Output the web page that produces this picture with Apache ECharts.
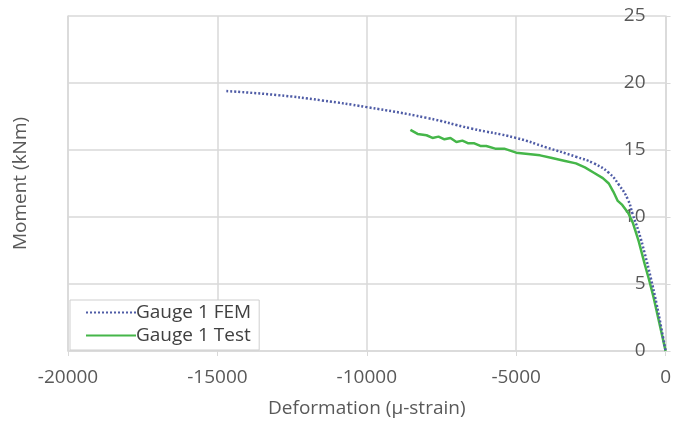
<!DOCTYPE html>
<html>
<head>
<meta charset="utf-8">
<script src="https://cdn.jsdelivr.net/npm/echarts@6/dist/echarts.min.js"></script>
<style>
  html, body { margin: 0; padding: 0; background: #fff; }
  #main { width: 674px; height: 423px; }
</style>
</head>
<body>
<div id="main"></div>
<script>
// FEM curve: [strain, moment]
const femStrain = [-14700, -13000, -11500, -10000, -8000, -6500, -5000, -4000, -3000, -2400, -1900, -1560, -1260, -1100, -900, -700, -500, -300, -150, 0]
const femMoment = [19.4, 19.1, 18.7, 18.2, 17.4, 16.6, 15.9, 15.2, 14.5, 14.0, 13.3, 12.4, 11.3, 10.2, 8.9, 7.3, 5.5, 3.5, 1.8, 0]

// test curve
const testStrain = [-8540, -8300, -8000, -7800, -7600, -7400, -7200, -7000, -6800, -6600, -6400, -6200, -6000, -5700, -5400, -5000, -4600, -4200, -3800, -3400, -3000, -2700, -2400, -2100, -1900, -1750, -1600, -1450, -1250, -1100, -900, -700, -550, -400, -250, -100, 0]
const testMoment = [16.5, 16.2, 16.1, 15.9, 16.0, 15.8, 15.9, 15.6, 15.7, 15.5, 15.5, 15.3, 15.3, 15.1, 15.1, 14.8, 14.7, 14.6, 14.4, 14.2, 14.0, 13.7, 13.3, 12.9, 12.5, 11.9, 11.2, 10.9, 10.3, 9.6, 8.2, 6.5, 5.3, 4.0, 2.5, 1.0, 0]

const xTicks = [-20000, -15000, -10000, -5000, 0]
const yTicks = [0, 5, 10, 15, 20, 25]

const textColor = '#595959'
const gridColor = '#d9d9d9'
const fontFamily = 'Open Sans, Liberation Sans, sans-serif'

let chart = echarts.init(document.getElementById('main'))

let option = {
  animation: false,
  backgroundColor: '#fff',
  grid: {
    left: 68,
    right: 4,
    top: 16,
    bottom: 70
  },
  legend: {
    orient: 'vertical',
    left: 70,
    top: 300,
    data: ['Gauge 1 FEM', 'Gauge 1 Test'],
    backgroundColor: '#fff',
    borderColor: '#cfcfcf',
    borderWidth: 1,
    padding: [3, 8, 5, 15],
    itemGap: 4,
    itemWidth: 50,
    itemHeight: 14,
    itemStyle: { opacity: 0 },
    textStyle: { color: '#404040', fontSize: 19, fontFamily: fontFamily, padding: [0, 0, 0, -5] }
  },
  xAxis: {
    type: 'value',
    min: xTicks[0],
    max: xTicks[xTicks.length - 1],
    interval: 5000,
    name: 'Deformation (\u03bc-strain)',
    nameLocation: 'middle',
    nameGap: 48,
    nameTextStyle: { color: textColor, fontSize: 19, fontFamily: fontFamily },
    axisLine: { show: true, lineStyle: { color: gridColor, width: 1.5 } },
    axisTick: { show: true, length: 5, lineStyle: { color: gridColor } },
    axisLabel: { color: textColor, fontSize: 19, fontFamily: fontFamily, margin: 17, formatter: v => String(v) },
    splitLine: { show: true, lineStyle: { color: gridColor, width: 1.5 } }
  },
  yAxis: [
    {
      type: 'value',
      position: 'right',
      min: yTicks[0],
      max: yTicks[yTicks.length - 1],
      interval: 5,
      axisLine: { show: true, lineStyle: { color: gridColor, width: 1.5 } },
      axisTick: { show: true, inside: false, length: 5, lineStyle: { color: gridColor } },
      axisLabel: { inside: true, color: textColor, fontSize: 19, fontFamily: fontFamily, margin: 20 },
      splitLine: { show: true, lineStyle: { color: gridColor, width: 1.5 } }
    },
    {
      type: 'value',
      position: 'left',
      min: yTicks[0],
      max: yTicks[yTicks.length - 1],
      name: 'Moment (kNm)',
      nameLocation: 'middle',
      nameGap: 38,
      nameRotate: 90,
      nameTextStyle: { color: textColor, fontSize: 19, fontFamily: fontFamily },
      axisLine: { show: true, lineStyle: { color: gridColor, width: 1.5 } },
      axisTick: { show: false },
      axisLabel: { show: false },
      splitLine: { show: false }
    }
  ],
  series: [
    {
      name: 'Gauge 1 Test',
      type: 'line',
      symbol: 'none',
      smooth: false,
      data: testStrain.map((x, i) => [x, testMoment[i]]),
      itemStyle: { color: '#45b649' },
      lineStyle: { color: '#45b649', width: 2.5 }
    },
    {
      name: 'Gauge 1 FEM',
      type: 'line',
      symbol: 'none',
      smooth: true,
      data: femStrain.map((x, i) => [x, femMoment[i]]),
      itemStyle: { color: '#4f5ca6' },
      lineStyle: { color: '#4f5ca6', width: 2.5, type: [2, 2] }
    }
  ]
}

chart.setOption(option)
</script>
</body>
</html>
